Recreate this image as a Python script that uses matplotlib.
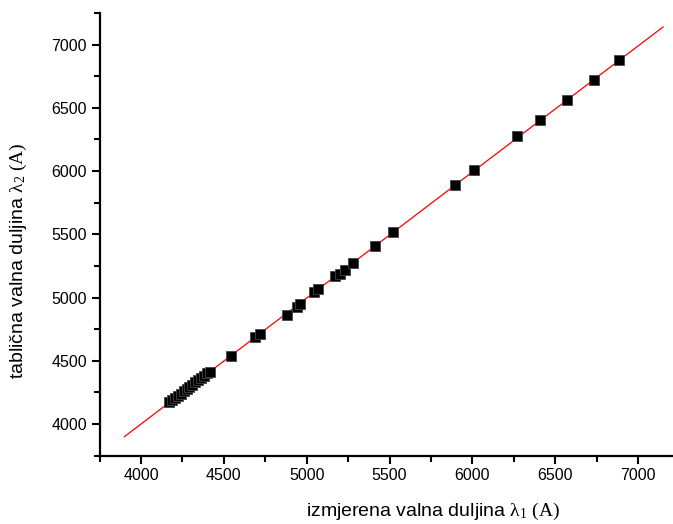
import numpy as np
import matplotlib
matplotlib.use("Agg")
import matplotlib.pyplot as plt
from matplotlib.ticker import MultipleLocator

# measured (x) and tabulated (y) wavelengths in Angstrom
measured = [4169, 4185, 4205, 4222, 4240, 4258, 4275, 4292, 4310, 4328,
            4346, 4364, 4382, 4400, 4416, 4541, 4688, 4718, 4881, 4941,
            4960, 5044, 5068, 5171, 5201, 5230, 5279, 5412, 5521, 5895,
            6010, 6270, 6409, 6572, 6735, 6886]
tabulated = [4172, 4187, 4207, 4224, 4241, 4259, 4277, 4294, 4311, 4329,
             4347, 4365, 4383, 4401, 4414, 4537, 4686, 4713, 4861, 4922,
             4947, 5041, 5067, 5169, 5184, 5216, 5270, 5411, 5522, 5890,
             6010, 6279, 6402, 6563, 6719, 6877]
fit_range = [3900, 7150]

plt.rcParams['font.family'] = ['Liberation Sans', 'DejaVu Sans']
plt.rcParams['mathtext.fontset'] = 'custom'
plt.rcParams['mathtext.rm'] = 'Liberation Serif'
plt.rcParams['mathtext.it'] = 'Liberation Serif'

fig = plt.figure(figsize=(6.73, 5.24), dpi=100)
W, H = 673, 524
left, right, bottom, top = 99.6, 679.5, 455.6, 13
ax = fig.add_axes([left / W, (H - bottom) / H, (right - left) / W, (bottom - top) / H])

x = np.array(measured, dtype=float)
y = np.array(tabulated, dtype=float)
k, b = np.polyfit(x, y, 1)
xf = np.array(fit_range, dtype=float)
ax.plot(xf, k * xf + b, color='red', lw=0.9, zorder=2)
ax.plot(x, y, 's', color='black', ms=6.5, mec='#444444', mew=0.6, zorder=3)

ax.set_xlim(3750, 7250)
ax.set_ylim(3750, 7250)
ax.xaxis.set_major_locator(MultipleLocator(500))
ax.xaxis.set_minor_locator(MultipleLocator(250))
ax.yaxis.set_major_locator(MultipleLocator(500))
ax.yaxis.set_minor_locator(MultipleLocator(250))

for s in ['top', 'right']:
    ax.spines[s].set_visible(False)
for s in ['left', 'bottom']:
    ax.spines[s].set_linewidth(1.6)
ax.tick_params(which='major', direction='out', length=6, width=1.5, labelsize=11.5, pad=3)
ax.tick_params(which='minor', direction='out', length=4, width=1.5)

ax.set_xlabel(r'izmjerena valna duljina $\mathrm{\lambda_1\ (A)}$', fontsize=14)
ax.set_ylabel(r'tablična valna duljina $\mathrm{\lambda_2\ (A)}$', fontsize=14)
ax.xaxis.label.set_verticalalignment('center')
ax.yaxis.label.set_verticalalignment('center')
ax.xaxis.set_label_coords((433 - left) / (right - left), (bottom - 511) / (bottom - top))
ax.yaxis.set_label_coords((18 - left) / (right - left), (bottom - 261) / (bottom - top))

fig.savefig('out.png', dpi=100)
